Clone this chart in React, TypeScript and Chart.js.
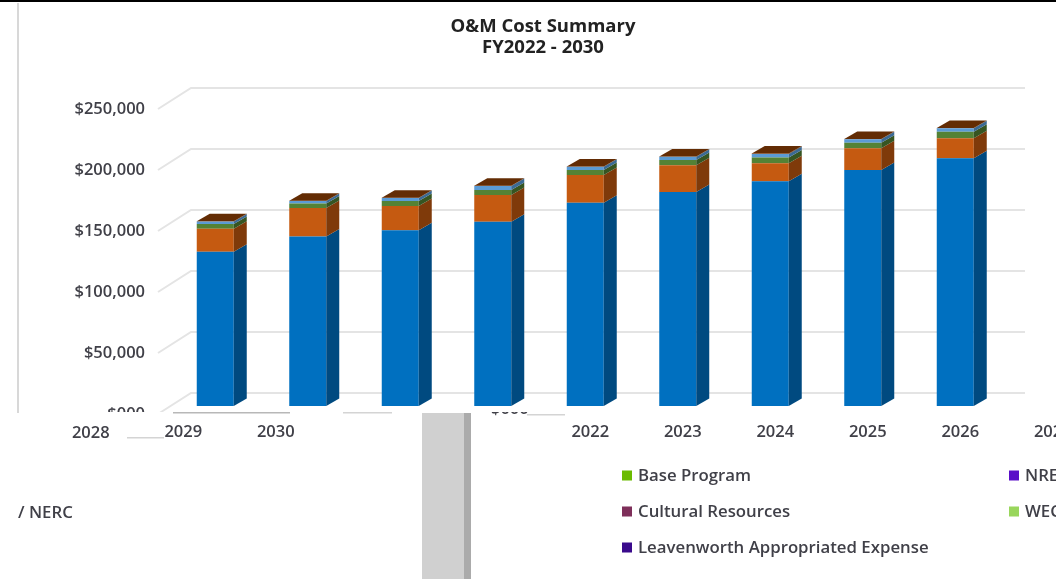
import React, { useEffect, useRef } from "react";
import { Chart, registerables } from "chart.js";

Chart.register(...registerables);

// Bar categories as they can be read under the bars (two labels are lost in the picture)
const barCategories = ["2029", "2030", "", "", "2022", "2023", "2024", "2025", "2026"];
const leftExtraLabel = "2028";
const rightExtraLabel = "2027";

const blueValues = [126500, 139000, 144000, 151000, 166600, 175400, 184200, 193400, 203000];
const orangeValues = [18700, 23300, 20000, 21900, 22700, 21900, 14800, 17800, 16400];
const greenValues = [4000, 3600, 4000, 4100, 4100, 4300, 4600, 4600, 5400];
const lightBlueValues = [2000, 2100, 2400, 3300, 2700, 2700, 3000, 2800, 2800];
const brownValues = [300, 300, 300, 300, 300, 300, 300, 300, 300];

const seriesColors = ["#0070C0", "#C55A11", "#548235", "#5B9BD5", "#843C0C"];
const sideColors = ["#004A80", "#7F3A0A", "#365522", "#3B6A94", "#582808"];
const topFaceColor = "#632C04";

const titleLines = ["O&M Cost Summary", "FY2022 - 2030"];

const legendItems = [
  { label: "Base Program", color: "#6BBB00", col: 1, row: 0 },
  { label: "NRE", color: "#5A0FC8", col: 2, row: 0 },
  { label: "Cultural Resources", color: "#7E2F5A", col: 1, row: 1 },
  { label: "WEC", color: "#99D65C", col: 2, row: 1 },
  { label: "Leavenworth Appropriated Expense", color: "#3A0A8C", col: 1, row: 2 },
];
const clippedLegendText = "/ NERC";

const FONT = "'Open Sans', sans-serif";
const TICK_FONT = `600 16.5px ${FONT}`;
const LEGEND_FONT = `600 16.8px ${FONT}`;
const TEXT = "#404048";

const cubePlugin = {
  id: "cube",
  beforeDatasetsDraw(chart: any) {
    const { ctx, scales } = chart;
    const y = scales.y;
    ctx.save();
    ctx.strokeStyle = "#E4E4E4";
    ctx.lineWidth = 2;
    for (const v of y.ticks.map((t: any) => t.value)) {
      const py = y.getPixelForValue(v) - 13;
      ctx.beginPath();
      ctx.moveTo(158, py + 21);
      ctx.lineTo(191, py);
      ctx.lineTo(1025, py);
      ctx.stroke();
    }
    ctx.restore();
  },
  afterDatasetsDraw(chart: any) {
    const { ctx } = chart;
    const dx = 13;
    const dy = -7.5;
    const count = chart.data.datasets.length;
    ctx.save();
    chart.data.datasets.forEach((_: any, di: number) => {
      chart.getDatasetMeta(di).data.forEach((bar: any) => {
        const p = bar.getProps(["x", "y", "base", "width"], true);
        const right = p.x + p.width / 2;
        const left = p.x - p.width / 2;
        ctx.fillStyle = sideColors[di];
        ctx.beginPath();
        ctx.moveTo(right, p.base);
        ctx.lineTo(right + dx, p.base + dy);
        ctx.lineTo(right + dx, p.y + dy);
        ctx.lineTo(right, p.y);
        ctx.closePath();
        ctx.fill();
        if (di === count - 1) {
          ctx.fillStyle = topFaceColor;
          ctx.beginPath();
          ctx.moveTo(left, p.y);
          ctx.lineTo(left + dx, p.y + dy);
          ctx.lineTo(right + dx, p.y + dy);
          ctx.lineTo(right, p.y);
          ctx.closePath();
          ctx.fill();
        }
      });
    });
    ctx.restore();
  },
  afterDraw(chart: any) {
    const { ctx, scales } = chart;
    const x = scales.x;
    ctx.save();
    // the lower part of the picture is pasted over the axis
    ctx.fillStyle = "#FFFFFF";
    ctx.fillRect(0, 412, 1056, 167);

    ctx.fillStyle = "#000000";
    ctx.fillRect(0, 0, 1056, 2);
    ctx.fillStyle = "#D8D8D8";
    ctx.fillRect(17, 3, 2, 410);

    ctx.fillStyle = "#D0D0D0";
    ctx.fillRect(422, 413, 42, 166);
    ctx.fillStyle = "#ABABAB";
    ctx.fillRect(464, 413, 7, 166);

    ctx.fillStyle = "#B8B8B8";
    ctx.fillRect(173, 412, 117, 1.5);
    ctx.fillStyle = "#D4D4D4";
    ctx.fillRect(343, 412, 49, 1.5);
    ctx.fillRect(127, 437, 37, 1.5);
    ctx.fillRect(527, 414, 38, 1.5);

    // stray axis label remainder
    ctx.save();
    ctx.beginPath();
    ctx.rect(480, 412, 60, 10);
    ctx.clip();
    ctx.fillStyle = TEXT;
    ctx.font = TICK_FONT;
    ctx.textBaseline = "middle";
    ctx.textAlign = "left";
    ctx.fillText("$000", 491, 409);
    ctx.restore();

    // x tick labels
    ctx.fillStyle = TEXT;
    ctx.font = TICK_FONT;
    ctx.textAlign = "center";
    ctx.textBaseline = "middle";
    const shifted = (i: number) => (i <= 1 ? -32 : 5);
    ctx.fillText(leftExtraLabel, x.getPixelForValue(-1) - 32, 433);
    barCategories.forEach((label, i) => {
      if (label) ctx.fillText(label, x.getPixelForValue(i) + shifted(i), 432);
    });
    ctx.fillText(rightExtraLabel, x.getPixelForValue(9) + 5, 432);

    // legend fragments
    ctx.textAlign = "left";
    ctx.font = LEGEND_FONT;
    const colX: Record<number, number> = { 1: 622, 2: 1009 };
    legendItems.forEach((item) => {
      const cy = 475.5 + item.row * 36;
      ctx.fillStyle = item.color;
      ctx.fillRect(colX[item.col], cy - 5, 10, 10);
      ctx.fillStyle = TEXT;
      ctx.fillText(item.label, colX[item.col] + 16, cy + 0.5);
    });
    ctx.fillText(clippedLegendText, 18, 513);
    ctx.restore();
  },
};

export default function App() {
  const ref = useRef<HTMLCanvasElement>(null);
  useEffect(() => {
    const seriesValues = [blueValues, orangeValues, greenValues, lightBlueValues, brownValues];
    const seriesNames = ["Blue series", "Orange series", "Green series", "Light blue series", "Brown series"];
    const chart = new Chart(ref.current!, {
      type: "bar",
      data: {
        labels: barCategories,
        datasets: seriesValues.map((data, i) => ({
          label: seriesNames[i],
          data,
          backgroundColor: seriesColors[i],
          borderWidth: 0,
          barPercentage: 0.4,
          categoryPercentage: 1,
        })),
      },
      options: {
        responsive: false,
        animation: false,
        devicePixelRatio: 1,
        layout: { padding: { left: 70, right: 40, top: 0, bottom: 173 } },
        plugins: {
          legend: { display: false },
          tooltip: { enabled: false },
          title: {
            display: true,
            text: titleLines,
            color: "#222222",
            font: { family: FONT, size: 18.5, weight: "bold", lineHeight: 1.135 },
            padding: { top: 16, bottom: 43 },
          },
        },
        scales: {
          x: { stacked: true, display: false },
          y: {
            stacked: true,
            min: 0,
            max: 250000,
            afterFit(s: any) {
              s.width = 99;
            },
            border: { display: false },
            grid: { display: false, drawTicks: false },
            ticks: {
              stepSize: 50000,
              padding: 24,
              labelOffset: 8,
              color: TEXT,
              font: { family: FONT, size: 16.5, weight: "600" },
              callback: (v: any) => (v === 0 ? "$000" : "$" + Number(v).toLocaleString("en-US")),
            },
          },
          gutter: {
            position: "right",
            afterFit(s: any) {
              s.width = 14.5;
            },
            border: { display: false },
            grid: { display: false, drawTicks: false },
            ticks: { display: false },
          },
        },
      },
      plugins: [cubePlugin],
    } as any);
    return () => chart.destroy();
  }, []);
  return (
    <div style={{ position: "fixed", left: 0, top: 0, width: 1056, height: 579, background: "#fff", overflow: "hidden" }}>
      <canvas ref={ref} width={1056} height={579} style={{ display: "block" }} />
    </div>
  );
}
